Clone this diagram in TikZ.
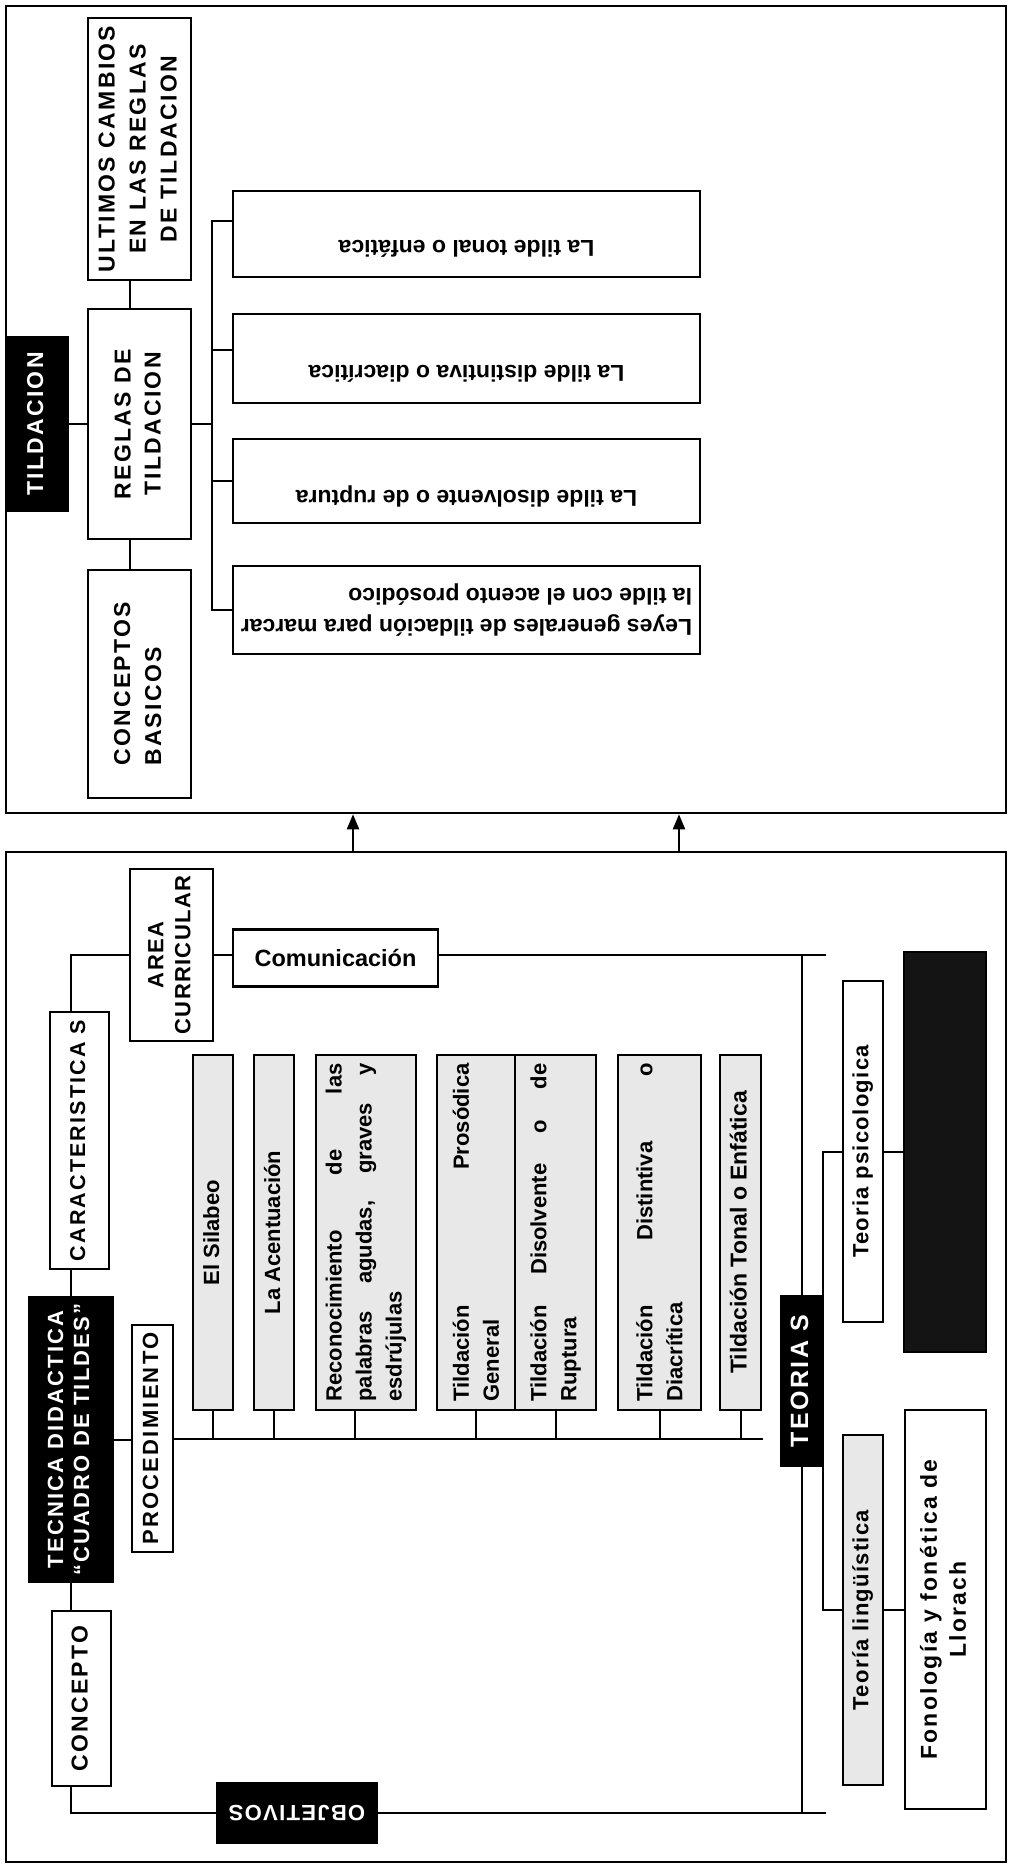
\documentclass[tikz,border=0pt]{standalone}
\usepackage{fontspec}
\usepackage{graphicx}
\setmainfont{Liberation Sans}
\newfontfamily\capsfont[LetterSpace=10]{Liberation Sans}
\newfontfamily\spreadfont[LetterSpace=6]{Liberation Sans}
\usetikzlibrary{positioning,arrows.meta}

\newcommand{\upstack}[2][c]{\rotatebox{90}{\begin{tabular}{@{}#1@{}}#2\end{tabular}}}
\newcommand{\flipstack}[2][c]{\rotatebox{180}{\begin{tabular}{@{}#1@{}}#2\end{tabular}}}
\newcommand{\upjust}[2]{\rotatebox{90}{\parbox{#1}{#2}}}

\tikzset{
  panel/.style={draw, line width=2.6pt, inner sep=0pt},
  box/.style={draw, line width=2.8pt, fill=white, inner sep=1pt},
  darkbox/.style={box, fill=black, text=white},
  graybox/.style={box, fill=black!9},
  caps/.style={font=\capsfont\bfseries\fontsize{23}{30}\selectfont},
  heavy/.style={font=\spreadfont\bfseries\fontsize{22}{27}\selectfont},
  tildetxt/.style={font=\bfseries\fontsize{23}{31}\selectfont, inner sep=0pt},
  steptxt/.style={font=\bfseries\fontsize{22}{30}\selectfont},
  link/.style={line width=2pt},
  arr/.style={line width=2.2pt, -{Triangle[length=15pt,width=12pt]}},
}

\begin{document}
\begin{tikzpicture}[x=1pt,y=-1pt]
\useasboundingbox[fill=white] (0,0) rectangle (1010,1868);

% upper panel: tildacion
\node[panel, minimum width=1000pt, minimum height=807pt] (tp) at (506,409.5) {};
\node[darkbox, caps, minimum width=62pt, minimum height=174pt] (til) at (37,424) {\upstack{TILDACION}};
\node[box, font=\capsfont\bfseries\fontsize{23}{31}\selectfont, minimum width=103pt, minimum height=262pt] (ult) at (139.5,149) {\upstack{ULTIMOS CAMBIOS\\EN LAS REGLAS\\DE TILDACION}};
\node[box, caps, minimum width=103pt, minimum height=230pt] (reg) at (139.5,424) {\upstack{REGLAS DE\\TILDACION}};
\node[box, font=\capsfont\bfseries\fontsize{23}{31}\selectfont, minimum width=103pt, minimum height=228pt] (cob) at (139.5,684) {\upstack[l]{CONCEPTOS\\BASICOS}};

\node[box, minimum width=467pt, minimum height=86pt] (b1) at (466.5,234) {};
\node[tildetxt, rotate=180] (t1) at ([yshift=-15pt]b1.center) {La tilde tonal o enfática};
\node[box, minimum width=467pt, minimum height=89pt] (b2) at (466.5,358.5) {};
\node[tildetxt, rotate=180] (t2) at ([yshift=-15pt]b2.center) {La tilde distintiva o diacrítica};
\node[box, minimum width=467pt, minimum height=84pt] (b3) at (466.5,481) {};
\node[tildetxt, rotate=180] (t3) at ([yshift=-15pt]b3.center) {La tilde disolvente o de ruptura};
\node[box, tildetxt, minimum width=467pt, minimum height=88pt] (b4) at (466.5,610) {\flipstack[l]{Leyes generales de tildación para marcar\\la tilde con el acento prosódico}};

\coordinate[right=20pt of reg.east] (tr);
\draw[link] (til.east) -- (reg.west);
\draw[link] (reg.east) -- (tr);
\draw[link] ([yshift=13pt]b1.west) -| (tr |- b4.west) -- (b4.west);
\draw[link] ([yshift=9pt]b2.west) -- ([yshift=9pt]b2.west -| tr);
\draw[link] (b3.west) -- (b3.west -| tr);
\draw[link] ([xshift=-10pt]ult.south) -- ([xshift=-10pt]reg.north);
\draw[link] ([xshift=-10pt]reg.south) -- ([xshift=-10pt]cob.north);

% lower panel: tecnica didactica
\node[panel, minimum width=1000pt, minimum height=1010pt] (bp) at (506,1357) {};
\coordinate (a1) at (353,832);
\coordinate (a2) at (679,832);
\draw[arr] (bp.north -| a1) -- (tp.south -| a1);
\draw[arr] (bp.north -| a2) -- (tp.south -| a2);

\node[box, heavy, minimum width=83pt, minimum height=172pt] (area) at (171.5,955) {\upstack{AREA\\CURRICULAR}};
\node[box, font=\bfseries\fontsize{23.5}{28}\selectfont, minimum width=205pt, minimum height=57pt] (com) at (335.5,958) {Comunicación};
\node[box, font=\capsfont\bfseries\fontsize{21.5}{28}\selectfont, minimum width=59pt, minimum height=257pt] (car) at (79.5,1140.5) {\upstack{CARACTERISTICA S}};
\node[darkbox, font=\capsfont\bfseries\fontsize{22}{26}\selectfont, minimum width=84pt, minimum height=285pt] (tec) at (71,1439.5) {\upstack{TECNICA DIDACTICA\\“CUADRO DE TILDES”}};
\node[box, font=\capsfont\bfseries\fontsize{22}{28}\selectfont, minimum width=41pt, minimum height=227pt] (proc) at (152.5,1438.5) {\upstack{PROCEDIMIENTO}};
\node[box, caps, minimum width=59pt, minimum height=175pt] (con) at (81.5,1698.5) {\upstack{CONCEPTO}};
\node[darkbox, heavy, minimum width=160pt, minimum height=60pt] (obj) at (297,1813) {\rotatebox{180}{OBJETIVOS}};

\node[graybox, steptxt, minimum width=40pt, minimum height=355pt] (g1) at (213,1232.5) {\upstack{El Silabeo}};
\node[graybox, steptxt, minimum width=40pt, minimum height=355pt] (g2) at (274,1232.5) {\upstack{La Acentuación}};
\node[graybox, steptxt, minimum width=100pt, minimum height=355pt] (g3) at (366,1232.5) {\upjust{338pt}{Reconocimiento\hfill de\hfill las\\palabras\hfill agudas,\hfill graves\hfill y\\esdrújulas}};
\node[graybox, steptxt, minimum width=78pt, minimum height=355pt] (g4) at (476,1232.5) {\upjust{338pt}{Tildación\hfill Prosódica\\General}};
\node[graybox, steptxt, minimum width=81pt, minimum height=355pt] (g5) at (555.5,1232.5) {\upjust{338pt}{Tildación\hfill Disolvente\hfill o\hfill de\\Ruptura}};
\node[graybox, steptxt, minimum width=83pt, minimum height=355pt] (g6) at (659.5,1232.5) {\upjust{338pt}{Tildación\hfill Distintiva\hfill o\\Diacrítica}};
\node[graybox, font=\bfseries\fontsize{23}{30}\selectfont, minimum width=41pt, minimum height=355pt] (g7) at (740.5,1232.5) {\upstack{Tildación Tonal o Enfática}};

\node[darkbox, font=\capsfont\bfseries\fontsize{25}{30}\selectfont, minimum width=42pt, minimum height=170pt] (teo) at (802,1381) {\upstack{TEORIA S}};
\node[box, heavy, minimum width=40pt, minimum height=341pt] (psi) at (863,1151.5) {\upstack{Teoria psicologica}};
\node[box, fill=black!92, minimum width=82pt, minimum height=400pt] (dark) at (945,1152) {};
\node[graybox, heavy, minimum width=40pt, minimum height=350pt] (lin) at (863,1610) {\upstack{Teoría lingüística}};
\node[box, font=\capsfont\bfseries\fontsize{23}{29}\selectfont, minimum width=81pt, minimum height=399pt] (fono) at (945.5,1609.5) {\upstack{Fonología y fonética de\\Llorach}};

\coordinate (pend) at (763,1438);
\coordinate (cr) at (826,955);
\coordinate (br) at (826,1813);
\draw[link] (area.east) -- (area.east -| com.west);
\draw[link] (com.east |- area.east) -- (cr);
\draw[link] (car.north -| tec.north) |- (area.west);
\draw[link] (tec.north) -- (tec.north |- car.south);
\draw[link] (tec.south) -- (tec.south |- con.north);
\draw[link] (con.south -| tec.south) |- (obj.west);
\draw[link] (obj.east) -- (br);
\draw[link] (teo.north) -- (teo.north |- cr);
\draw[link] (teo.south) -- (teo.south |- br);
\draw[link] (tec.east) -- (tec.east -| proc.west);
\draw[link] (proc.east) -- (proc.east -| pend);
\draw[link] (g1.south) -- (g1.south |- pend);
\draw[link] (g2.south) -- (g2.south |- pend);
\draw[link] ([xshift=-11pt]g3.south) -- ([xshift=-11pt]g3.south |- pend);
\draw[link] (g4.south) -- (g4.south |- pend);
\draw[link] (g5.south) -- (g5.south |- pend);
\draw[link] (g6.south) -- (g6.south |- pend);
\draw[link] (g7.south) -- (g7.south |- pend);
\draw[link] ([xshift=-1pt]teo.north east) |- (psi.west);
\draw[link] ([xshift=-1pt]teo.south east) |- (lin.west);
\draw[link] (psi.east) -- (psi.east -| dark.west);
\draw[link] (lin.east) -- (lin.east -| fono.west);

\end{tikzpicture}
\end{document}
